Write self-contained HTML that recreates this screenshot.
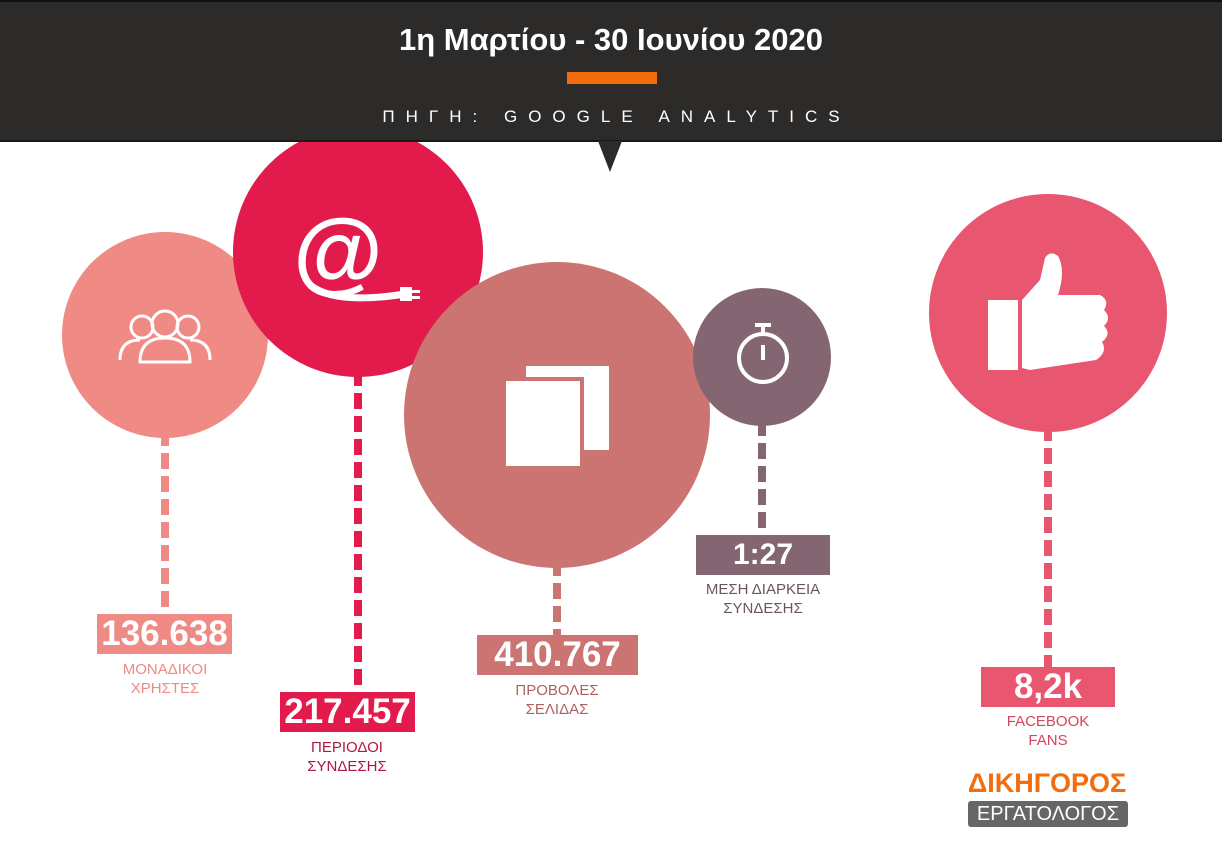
<!DOCTYPE html>
<html><head><meta charset="utf-8"><style>
body{margin:0;width:1222px;height:865px;background:#fff;overflow:hidden;position:relative;font-family:"Liberation Sans","DejaVu Sans",sans-serif}
.hdr{position:absolute;left:0;top:0;width:1222px;height:142px;background:#2d2b29;border-top:2px solid #111;border-bottom:2px solid #1a1918;box-sizing:border-box}
.t{position:absolute;left:0;width:1222px;text-align:center;color:#fff}
.box{position:absolute;color:#fff;font-weight:bold;text-align:center;font-size:35px;line-height:40px;height:40px}
.lbl{position:absolute;text-align:center;font-size:15px;line-height:19px;width:200px}
</style></head><body>
<svg width="1222" height="865" style="position:absolute;left:0;top:0">
<g stroke-width="8" stroke-dasharray="16,7">
<line x1="165" y1="430" x2="165" y2="616" stroke="#ef8a84"/>
<line x1="358" y1="370" x2="358" y2="694" stroke="#e31b4c"/>
<line x1="557" y1="560" x2="557" y2="637" stroke="#cb7472"/>
<line x1="762" y1="420" x2="762" y2="537" stroke="#836672"/>
<line x1="1048" y1="425" x2="1048" y2="669" stroke="#e8566f"/>
</g>
<circle cx="165" cy="335" r="103" fill="#ef8a84"/>
<circle cx="358" cy="252" r="125" fill="#e31b4c"/>
<circle cx="557" cy="415" r="153" fill="#cb7472"/>
<circle cx="762" cy="357" r="69" fill="#836672"/>
<circle cx="1048" cy="313" r="119" fill="#e8566f"/>
<g fill="none" stroke="#fff" stroke-width="3">
<circle cx="142" cy="327" r="11"/><circle cx="188" cy="327" r="11"/><circle cx="165" cy="324" r="13"/>
<path d="M120 360 q0-20 20-20 M210 360 q0-20 -20-20"/>
<path d="M140 362 q0-24 25-24 q25 0 25 24 z"/>
</g>
<text x="338" y="283" font-size="92" font-weight="bold" fill="#fff" text-anchor="middle" font-family="Liberation Sans, sans-serif">@</text>
<path d="M310 285 q25 20 95 9" stroke="#fff" stroke-width="7" fill="none"/>
<rect x="400" y="287" width="12" height="14" fill="#fff"/><rect x="410" y="290" width="10" height="3" fill="#fff"/><rect x="410" y="296" width="10" height="3" fill="#fff"/>
<rect x="526" y="366" width="83" height="84" fill="#fff"/>
<rect x="506" y="381" width="74" height="85" fill="#fff" stroke="#cb7472" stroke-width="8"/>
<rect x="506" y="381" width="74" height="85" fill="#fff"/>
<g stroke="#fff" fill="none"><circle cx="763" cy="358" r="24" stroke-width="4"/><line x1="763" y1="326" x2="763" y2="334" stroke-width="4"/><line x1="755" y1="325" x2="771" y2="325" stroke-width="4"/><line x1="763" y1="345" x2="763" y2="360" stroke-width="4"/></g>
<g fill="#fff"><rect x="988" y="300" width="30" height="70"/>
<path d="M1022 300 L1040 280 L1045 258 Q1050 250 1058 256 Q1066 270 1058 295 L1100 295 Q1110 300 1104 310 Q1112 318 1104 326 Q1112 334 1102 342 Q1108 352 1096 360 L1030 370 L1022 368 Z"/></g>
</svg>
<div class="hdr"></div>
<div class="t" style="top:22px;font-size:31px;font-weight:bold;">1η Μαρτίου - 30 Ιουνίου 2020</div>
<div style="position:absolute;left:567px;top:72px;width:90px;height:12px;background:#f36d0d"></div>
<div class="t" style="top:107px;font-size:17px;letter-spacing:11px;padding-left:11px;box-sizing:border-box">ΠΗΓΗ: GOOGLE ANALYTICS</div>
<svg width="30" height="32" style="position:absolute;left:595px;top:141px"><polygon points="3,0 27,0 15,31" fill="#2d2b29"/></svg>

<div class="box" style="left:97px;top:614px;width:135px;background:#ef8a84">136.638</div>
<div class="lbl" style="left:65px;top:660px;color:#ef8a84">ΜΟΝΑΔΙΚΟΙ<br>ΧΡΗΣΤΕΣ</div>
<div class="box" style="left:280px;top:692px;width:135px;background:#e31b4c">217.457</div>
<div class="lbl" style="left:247px;top:738px;color:#b0173f">ΠΕΡΙΟΔΟΙ<br>ΣΥΝΔΕΣΗΣ</div>
<div class="box" style="left:477px;top:635px;width:161px;background:#cb7472">410.767</div>
<div class="lbl" style="left:457px;top:681px;color:#b0605f">ΠΡΟΒΟΛΕΣ<br>ΣΕΛΙΔΑΣ</div>
<div class="box" style="left:696px;top:535px;width:134px;background:#836672;font-size:30px">1:27</div>
<div class="lbl" style="left:663px;top:580px;color:#6a5560">ΜΕΣΗ ΔΙΑΡΚΕΙΑ<br>ΣΥΝΔΕΣΗΣ</div>
<div class="box" style="left:981px;top:667px;width:134px;background:#e8566f">8,2k</div>
<div class="lbl" style="left:948px;top:712px;color:#d0455f">FACEBOOK<br>FANS</div>
<div style="position:absolute;left:966px;top:768px;width:162px;text-align:center;color:#f36d0d;font-weight:bold;font-size:27px;line-height:30px">ΔΙΚΗΓΟΡΟΣ</div>
<div style="position:absolute;left:968px;top:801px;width:160px;height:26px;background:#666;border-radius:3px;color:#fff;text-align:center;font-size:20px;line-height:26px">ΕΡΓΑΤΟΛΟΓΟΣ</div>
</body></html>
